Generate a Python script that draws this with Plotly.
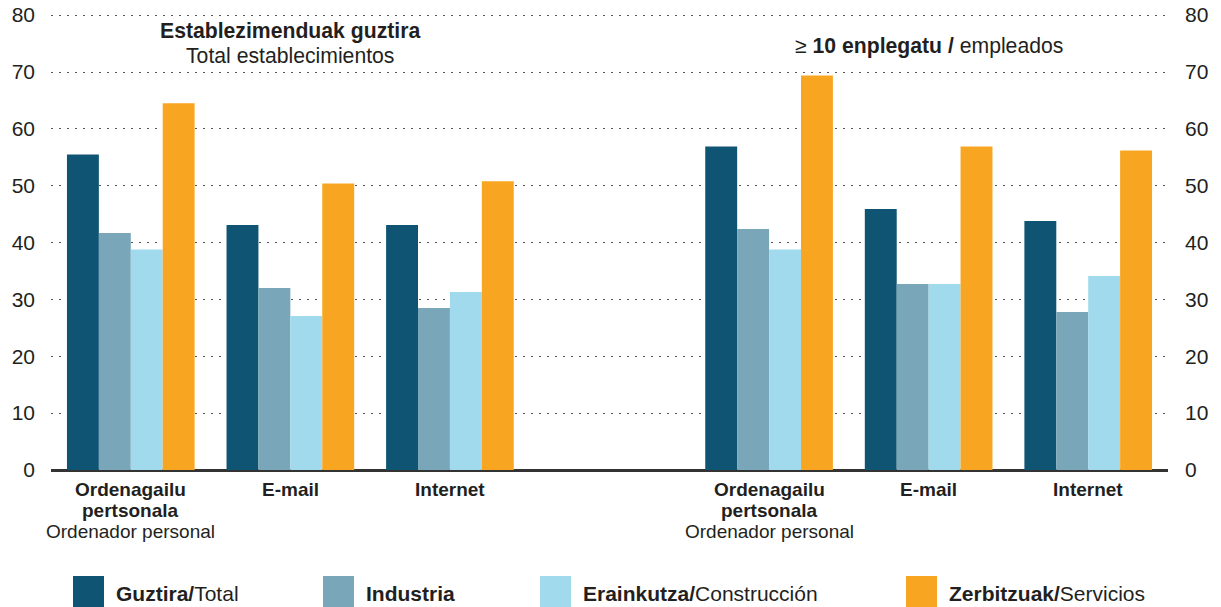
import plotly.graph_objects as go

# ---- data ----
categories = ["Ordenagailu pertsonala", "E-mail", "Internet"]
category_lines = [
    ["<b>Ordenagailu</b>", "<b>pertsonala</b>", "Ordenador personal"],
    ["<b>E-mail</b>"],
    ["<b>Internet</b>"],
]
panel_titles = [
    ["<b>Establezimenduak guztira</b>", "Total establecimientos"],
    ["≥ <b>10 enplegatu /</b> empleados"],
]
series_names = ["<b>Guztira/</b>Total", "<b>Industria</b>",
                "<b>Erainkutza/</b>Construcción", "<b>Zerbitzuak/</b>Servicios"]

total = [55.5, 43.1, 43.1, 56.9, 45.9, 43.8]
industria = [41.7, 32.0, 28.5, 42.4, 32.7, 27.8]
construccion = [38.8, 27.1, 31.3, 38.8, 32.7, 34.1]
servicios = [64.5, 50.4, 50.8, 69.4, 56.9, 56.2]

y_ticks = [0, 10, 20, 30, 40, 50, 60, 70, 80]

colors = ["#105474", "#79A6B8", "#A1DAEC", "#F8A621"]
FONT = "Liberation Sans, Arial, Helvetica, sans-serif"
TXT = "#231f20"

# slot positions: 3 categories per panel, one empty slot between panels
n_panels = len(panel_titles)
slots = [p * (len(categories) + 1) + i for p in range(n_panels) for i in range(len(categories))]

fig = go.Figure()
for name, vals, col in zip(series_names, [total, industria, construccion, servicios], colors):
    fig.add_trace(go.Bar(x=slots, y=vals, name=name, marker=dict(color=col, line=dict(width=0)),
                         showlegend=False, hoverinfo="y"))
# invisible trace for right axis
fig.add_trace(go.Scatter(x=[slots[0]], y=[0], yaxis="y2", mode="markers",
                         marker=dict(opacity=0), showlegend=False, hoverinfo="skip"))

W, H = 1221, 607
ML, MR, MT, MB = 51, 53, 14, 137
PW, PH = W - ML - MR, H - MT - MB
Y_TOP = 80.2


def px_x(px):
    return (px - ML) / PW


def px_y(py):
    return (H - MB - py) / PH


annotations = []
# category labels
for s in slots:
    lines = category_lines[s % (len(categories) + 1)]
    for k, line in enumerate(lines):
        annotations.append(dict(x=s, y=0, xref="x", yref="paper", text=line, showarrow=False,
                                yanchor="middle", yshift=-19 - 21 * k,
                                font=dict(family=FONT, size=19, color=TXT)))
# panel titles (centered over middle category of each panel)
title_shifts = [[-17, -41], [-32]]
for p, lines in enumerate(panel_titles):
    cx = p * (len(categories) + 1) + 1
    for line, sh in zip(lines, title_shifts[p]):
        annotations.append(dict(x=cx, y=1, xref="x", yref="paper", text=line,
                                showarrow=False, yanchor="middle", yshift=sh,
                                font=dict(family=FONT, size=21.2, color=TXT)))

# custom legend
shapes = []
legend_sq_x = [73, 323, 540, 906]
for name, col, sx in zip(series_names, colors, legend_sq_x):
    shapes.append(dict(type="rect", xref="paper", yref="paper", x0=px_x(sx), x1=px_x(sx + 31),
                       y0=px_y(608), y1=px_y(576), fillcolor=col, line=dict(width=0)))
    annotations.append(dict(x=px_x(sx + 41), y=px_y(593), xref="paper", yref="paper", text=name,
                            showarrow=False, xanchor="left", yanchor="middle",
                            font=dict(family=FONT, size=21, color=TXT)))

yaxis_common = dict(range=[0, Y_TOP], tickvals=y_ticks, showline=False, ticks="", automargin=False,
                    tickfont=dict(family=FONT, size=21, color=TXT), fixedrange=True)

fig.update_layout(
    width=W, height=H, autosize=False,
    margin=dict(l=ML, r=MR, t=MT, b=MB, pad=0),
    paper_bgcolor="white", plot_bgcolor="white",
    barmode="group", bargap=0.2, bargroupgap=0,
    xaxis=dict(range=[-0.5, slots[-1] + 0.5], showticklabels=False, showgrid=False,
               zeroline=False, showline=False, ticks="", automargin=False, fixedrange=True),
    yaxis=dict(**yaxis_common, showgrid=True, gridcolor="#555555", gridwidth=1.3,
               griddash="1.5px,6.5px",
               zeroline=True, zerolinecolor="#333333", zerolinewidth=3, ticklabelstandoff=15),
    yaxis2=dict(**yaxis_common, overlaying="y", side="right", showgrid=False, zeroline=False,
                ticklabelstandoff=16),
    annotations=annotations, shapes=shapes,
    showlegend=False,
)

fig.write_html("out.html", config={"displayModeBar": False},
               post_script="document.body.style.margin='0';document.body.style.overflow='hidden';")
